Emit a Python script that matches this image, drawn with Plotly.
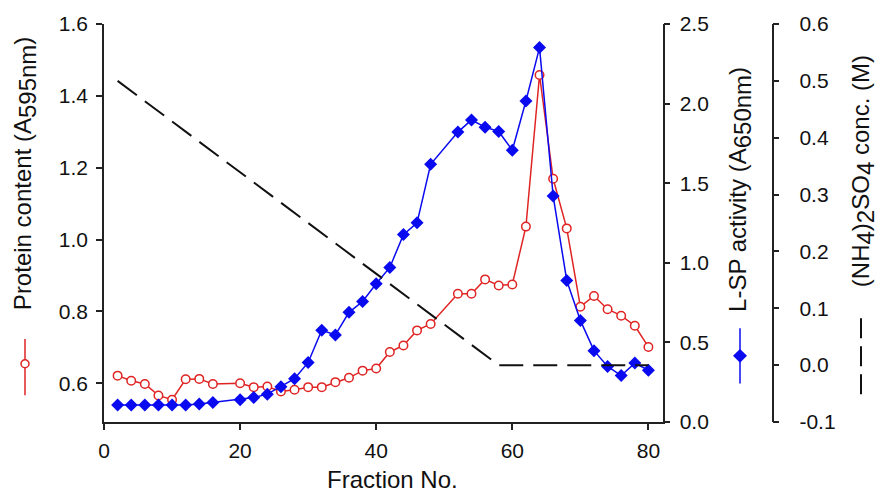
import plotly.graph_objects as go

# ---- data ----
fractions = [2, 4, 6, 8, 10, 12, 14, 16, 20, 22, 24, 26, 28, 30, 32, 34, 36, 38, 40,
             42, 44, 46, 48, 52, 54, 56, 58, 60, 62, 64, 66, 68, 70, 72, 74, 76, 78, 80]
protein = [0.621, 0.607, 0.598, 0.566, 0.554, 0.611, 0.612, 0.598, 0.600, 0.589,
           0.591, 0.577, 0.582, 0.589, 0.589, 0.603, 0.615, 0.635, 0.641, 0.687,
           0.705, 0.747, 0.765, 0.849, 0.849, 0.889, 0.872, 0.875, 1.036, 1.458,
           1.169, 1.031, 0.813, 0.843, 0.806, 0.788, 0.760, 0.701]
activity = [0.107, 0.107, 0.107, 0.107, 0.107, 0.107, 0.113, 0.123, 0.140, 0.154,
            0.175, 0.222, 0.272, 0.374, 0.576, 0.547, 0.689, 0.757, 0.868, 0.971,
            1.177, 1.251, 1.619, 1.821, 1.897, 1.852, 1.825, 1.707, 2.016, 2.352,
            1.420, 0.889, 0.638, 0.448, 0.349, 0.292, 0.370, 0.325]
salt_fraction = [2, 58, 80]
salt_conc = [0.5, 0.0, 0.0]

x_ticks = [0, 20, 40, 60, 80]
y1_ticks = [0.6, 0.8, 1.0, 1.2, 1.4, 1.6]
y2_ticks = [0.0, 0.5, 1.0, 1.5, 2.0, 2.5]
y3_ticks = [-0.1, 0.0, 0.1, 0.2, 0.3, 0.4, 0.5, 0.6]

RED = "#e02424"
BLUE = "#0a0af0"
FONT = "Liberation Sans, Arial, sans-serif"
AX = "#222222"

W, H = 879, 497
ML, MR, MT, MB = 104, 60, 19, 75
PW, PH = W - ML - MR, H - MT - MB


def px(x):
    return (x - ML) / PW


def py(y):
    return (H - MB - y) / PH


fig = go.Figure()
fig.add_trace(go.Scatter(x=salt_fraction, y=salt_conc, yaxis="y3", mode="lines",
                         line=dict(color="#111111", width=2, dash="24px,10px"),
                         showlegend=False))
fig.add_trace(go.Scatter(x=fractions, y=activity, yaxis="y2", mode="lines+markers",
                         line=dict(color=BLUE, width=1.5),
                         marker=dict(symbol="diamond", size=10, color=BLUE,
                                     line=dict(width=0)),
                         showlegend=False))
fig.add_trace(go.Scatter(x=fractions, y=protein, yaxis="y", mode="lines+markers",
                         line=dict(color=RED, width=1.5),
                         marker=dict(symbol="circle", size=8.5, color="white",
                                     line=dict(color=RED, width=1.5)),
                         showlegend=False))

tickfont = dict(family=FONT, size=21, color="#111111")
common = dict(showline=True, linecolor=AX, linewidth=1.5, ticks="outside",
              ticklen=6, tickwidth=1.5, tickcolor=AX, showgrid=False,
              zeroline=False, tickfont=tickfont)

fig.update_layout(
    width=W, height=H,
    margin=dict(l=ML, r=MR, t=MT, b=MB),
    paper_bgcolor="white", plot_bgcolor="white",
    xaxis=dict(domain=[0, px(662.7)], range=[0, 82.1], tickvals=x_ticks,
               ticktext=[str(v) for v in x_ticks], ticklabelstandoff=3, **common),
    yaxis=dict(range=[0.492, 1.6], tickvals=y1_ticks,
               ticktext=[f"{v:.1f}" for v in y1_ticks], ticklabelstandoff=4, **common),
    yaxis2=dict(range=[0, 2.5], tickvals=y2_ticks,
                ticktext=[f"{v:.1f}" for v in y2_ticks], ticklabelstandoff=5,
                overlaying="y", side="right", anchor="x", **common),
    yaxis3=dict(range=[-0.1, 0.6], tickvals=y3_ticks,
                ticktext=[f"{v:.1f}" for v in y3_ticks], ticklabelstandoff=16,
                overlaying="y", side="right", anchor="free",
                position=px(772.5), **common),
)

tfont = dict(family=FONT, size=24, color="#111111")


def sub(t):
    return f'<sub><span style="font-size:24px">{t}</span></sub>'


annotations = [
    dict(text="Fraction No.", x=px(392), y=py(480), xref="paper", yref="paper",
         showarrow=False, font=tfont, xanchor="center", yanchor="middle"),
    dict(text=f"Protein content (A{sub('595nm')})", x=px(25), y=py(170),
         xref="paper", yref="paper", showarrow=False, font=tfont, textangle=-90,
         xanchor="center", yanchor="middle"),
    dict(text=f"L-SP activity (A{sub('650nm')})", x=px(740), y=py(187),
         xref="paper", yref="paper", showarrow=False, font=tfont, textangle=-90,
         xanchor="center", yanchor="middle"),
    dict(text=f"(NH{sub('4')}){sub('2')}SO{sub('4')} conc. (M)", x=px(863), y=py(168),
         xref="paper", yref="paper", showarrow=False, font=tfont, textangle=-90,
         xanchor="center", yanchor="middle"),
]
fig.update_layout(annotations=annotations)

shapes = [
    # protein legend glyph
    dict(type="line", xref="paper", yref="paper", x0=px(25), x1=px(25),
         y0=py(338), y1=py(395), line=dict(color=RED, width=1.5)),
    dict(type="circle", xref="paper", yref="paper", x0=px(21), x1=px(29),
         y0=py(359), y1=py(367), fillcolor="white", line=dict(color=RED, width=1.5)),
    # activity legend glyph
    dict(type="line", xref="paper", yref="paper", x0=px(740), x1=px(740),
         y0=py(327), y1=py(383), line=dict(color=BLUE, width=1.5)),
    dict(type="path", xref="paper", yref="paper",
         path=f"M {px(740)},{py(348)} L {px(747)},{py(355)} L {px(740)},{py(362)} L {px(733)},{py(355)} Z",
         fillcolor=BLUE, line=dict(color=BLUE, width=0)),
    # salt legend glyph
    dict(type="line", xref="paper", yref="paper", x0=px(861), x1=px(861),
         y0=py(317), y1=py(395), line=dict(color="#111111", width=2, dash="20px,8px")),
]
fig.update_layout(shapes=shapes)

fig.write_html("out.html")
